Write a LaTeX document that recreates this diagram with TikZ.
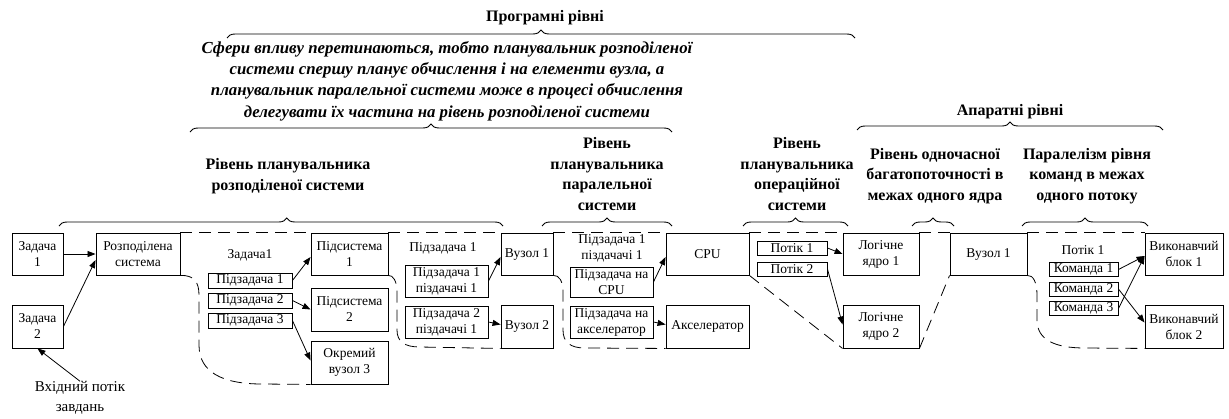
\documentclass[tikz,border=0pt]{standalone}
\usepackage{fontspec}
\setmainfont{Liberation Serif}
\usetikzlibrary{arrows.meta,decorations.pathreplacing}
\begin{document}
\begin{tikzpicture}[x=1pt,y=-1pt,
  every node/.style={inner sep=0pt, align=center, font=\fontsize{13.5}{16}\selectfont},
  blk/.style={draw, line width=0.9pt, minimum height=42},
  subbox/.style={draw, line width=0.9pt, minimum width=84, minimum height=15},
  cmdbox/.style={draw, line width=0.9pt, minimum width=69, minimum height=14},
  arr/.style={-{Triangle[length=8pt,width=6pt]}, line width=0.8pt},
  dsh/.style={line width=0.8pt, dash pattern=on 12pt off 7pt},
  brc/.style={decorate, decoration={brace, amplitude=8pt}, line width=0.9pt},
  hd/.style={font=\fontsize{16}{20.5}\selectfont\bfseries},
  note/.style={font=\fontsize{16.8}{21.3}\selectfont\bfseries\itshape}
]
\useasboundingbox (0,0) rectangle (1229,418);

% ---- level headings and braces ----
\node[hd] (prog) at (545,18) {Програмні рівні};
\draw[brc] (227,38) -- (855,38);
\node[note] (sph) at (447,81) {Сфери впливу перетинаються, тобто планувальник розподіленої\\
системи спершу планує обчислення і на елементи вузла, а\\
планувальник паралельної системи може в процесі обчислення\\
делегувати їх частина на рівень розподіленої системи};
\draw[brc] (190,132) -- (672,132);

\node[hd] (aparat) at (1010,112) {Апаратні рівні};
\draw[brc] (857,130) -- (1163,130);

\node[hd] (hdist) at (288,176) {Рівень планувальника\\розподіленої системи};
\node[hd] (hpar) at (607,174) {Рівень\\планувальника\\паралельної\\системи};
\node[hd] (hos) at (797,174) {Рівень\\планувальника\\операційної\\системи};
\node[hd] (hmt) at (935,176) {Рівень одночасної\\багатопоточності в\\межах одного ядра};
\node[hd] (hilp) at (1087,176) {Паралелізм рівня\\команд в межах\\одного потоку};

\draw[brc, decoration={aspect=0.513}] (59,226) -- (503,226);
\draw[brc] (542,226) -- (672,226);
\draw[brc] (743,226) -- (848,226);
\draw[brc] (912,226) -- (954,226);
\draw[brc] (1022,226) -- (1148,226);

% ---- tasks and distributed system ----
\node[blk, minimum width=51] (z1) at (37.5,254) {Задача\\1};
\node[blk, minimum width=51, minimum height=43] (z2) at (37.5,326.5) {Задача\\2};
\node[blk, minimum width=84] (rs) at (138,254) {Розподілена\\система};
\node[font=\fontsize{15}{20}\selectfont] (inp) at (80,398) {Вхідний потік\\завдань};

\draw[arr] (z1.east) -- (rs.west);
\draw[arr] (z2.east) -- ([yshift=-6pt]rs.west);
\draw[arr] (inp.north) -- (z2.south);

% ---- distributed scheduler level ----
\node (t1) at (250,255) {Задача1};
\node[subbox] (sz1) at (250,280.5) {Підзадача 1};
\node[subbox] (sz2) at (250,300.5) {Підзадача 2};
\node[subbox] (sz3) at (250,320.5) {Підзадача 3};
\node[blk, minimum width=77] (ps1) at (349.5,254) {Підсистема\\1};
\node[blk, minimum width=77, minimum height=43] (ps2) at (349.5,309.5) {Підсистема\\2};
\node[blk, minimum width=77, minimum height=43] (ov3) at (349.5,362.5) {Окремий\\вузол 3};

\draw[arr] (sz1.east) -- ([yshift=-3pt]ps1.west);
\draw[arr] (sz2.east) -- (ps2.west);
\draw[arr] (sz3.east) -- ([yshift=2pt]ov3.west);

\draw[dsh] (rs.north east) -- (ps1.north west);
\draw[dsh] (rs.south east) .. controls (194,275) and (199,282) .. (199,295)
  -- (199,345) .. controls (199,372) and (222,384) .. (262,384) -- (ov3.south west);

% ---- node level ----
\node (pz) at (443,248) {Підзадача 1};
\node[draw, line width=0.9pt, minimum width=83, minimum height=32] (pp1) at (446.5,281) {Підзадача 1\\піздачачі 1};
\node[draw, line width=0.9pt, minimum width=83, minimum height=32] (pp2) at (446.5,322) {Підзадача 2\\піздачачі 1};
\node[blk, minimum width=52] (v1) at (527,254) {Вузол 1};
\node[blk, minimum width=52, minimum height=43] (v2) at (527,326.5) {Вузол 2};

\draw[arr] (pp1.east) -- ([yshift=-3pt]v1.west);
\draw[arr] (pp2.east) -- ([yshift=2pt]v2.west);

\draw[dsh] (ps1.north east) -- (v1.north west);
\draw[dsh] (ps1.south east) .. controls (393,275) and (397,281) .. (397,292)
  -- (397,330) .. controls (397,342) and (405,347) .. (420,347) -- (v2.south west);

% ---- parallel scheduler level ----
\node (pzc) at (612,248) {Підзадача 1\\піздачачі 1};
\node[draw, line width=0.9pt, minimum width=83, minimum height=30] (pc) at (611.5,282) {Підзадача на\\CPU};
\node[draw, line width=0.9pt, minimum width=83, minimum height=32] (pa) at (611.5,322) {Підзадача на\\акселератор};
\node[blk, minimum width=83] (cpu) at (707.5,254) {CPU};
\node[blk, minimum width=83, minimum height=43] (acc) at (707.5,326.5) {Акселератор};

\draw[arr] (pc.east) -- ([yshift=-3pt]cpu.west);
\draw[arr] (pa.east) -- ([yshift=2pt]acc.west);

\draw[dsh] (v1.north east) -- (cpu.north west);
\draw[dsh] (v1.south east) .. controls (559,275) and (563,281) .. (563,292)
  -- (563,330) .. controls (563,342) and (570,348) .. (585,348) -- (acc.south west);

% ---- operating system level ----
\node[cmdbox, minimum width=70] (pt1) at (792,248) {Потік 1};
\node[cmdbox, minimum width=70] (pt2) at (792,269) {Потік 2};
\node[blk, minimum width=76] (ly1) at (881,254) {Логічне\\ядро 1};
\node[blk, minimum width=76, minimum height=43] (ly2) at (881,326.5) {Логічне\\ядро 2};

\draw[arr] (pt1.east) -- (ly1.west);
\draw[arr] (pt2.east) -- ([yshift=2pt]ly2.west);

\draw[dsh] (cpu.north east) -- (ly1.north west);
\draw[dsh] (cpu.south east) -- (ly2.south west);

% ---- core level ----
\node[blk, minimum width=77] (vz) at (988.5,254) {Вузол 1};
\draw[dsh] (ly1.north east) -- (vz.north west);
\draw[dsh] (ly2.south east) -- (vz.south west);

% ---- instruction level ----
\node (pt) at (1083,250) {Потік 1};
\node[cmdbox] (k1) at (1083.5,269.5) {Команда 1};
\node[cmdbox] (k2) at (1083.5,289) {Команда 2};
\node[cmdbox] (k3) at (1083.5,308.5) {Команда 3};
\node[blk, minimum width=78] (vb1) at (1184,254) {Виконавчий\\блок 1};
\node[blk, minimum width=78, minimum height=43] (vb2) at (1184,326.5) {Виконавчий\\блок 2};

\draw[arr] (k1.east) -- ([yshift=-2pt]vb1.west);
\draw[arr] (k2.east) -- ([yshift=4pt]vb2.west);
\draw[arr] (k3.east) -- ([yshift=-2pt]vb1.west);

\draw[dsh] (vz.north east) -- (vb1.north west);
\draw[dsh] (vz.south east) .. controls (1033,275) and (1037,282) .. (1037,295)
  -- (1037,320) .. controls (1037,340) and (1055,348) .. (1085,348) -- (vb2.south west);
\end{tikzpicture}
\end{document}
